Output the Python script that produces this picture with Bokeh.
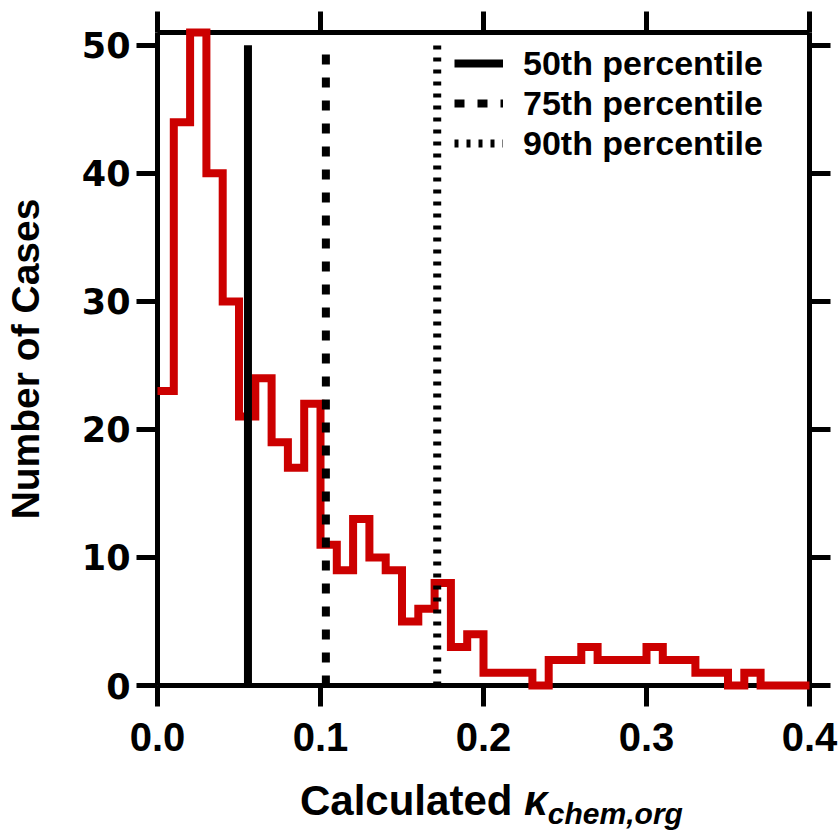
from bokeh.plotting import figure
from bokeh.models import LinearAxis, FixedTicker, Legend, LegendItem, Div
from bokeh.layouts import column
from bokeh.embed import file_html
from bokeh.resources import INLINE

# ---- data ----
bin_start = 0.0
bin_width = 0.01
counts = [23, 44, 51, 40, 30, 21, 24, 19, 17, 22,
          11, 9, 13, 10, 9, 5, 6, 8, 3, 4,
          1, 1, 1, 0, 2, 2, 3, 2, 2, 2,
          3, 2, 2, 1, 1, 0, 1, 0, 0, 0]
percentile_names = ["50th percentile", "75th percentile", "90th percentile"]
percentile_values = [0.0555, 0.1033, 0.1716]
percentile_top = 50
x_ticks = [0.0, 0.1, 0.2, 0.3, 0.4]
x_tick_labels = ["0.0", "0.1", "0.2", "0.3", "0.4"]
y_ticks = [0, 10, 20, 30, 40, 50]
y_tick_labels = ["0", "10", "20", "30", "40", "50"]

FONT = "Liberation Sans"
FL, FR, FT, FB = 153, 805, 32, 685  # frame edges in page px
FIG_H = 775

p = figure(frame_width=FR - FL, frame_height=FB - FT,
           x_range=(0, 0.4), y_range=(0, 51),
           output_backend="svg", toolbar_location=None,
           min_border_left=FL, min_border_right=839 - FR,
           min_border_top=FT, min_border_bottom=FIG_H - FB)
p.outline_line_color = None
p.xgrid.visible = False
p.ygrid.visible = False
p.background_fill_color = "white"
p.border_fill_color = "white"

def style_axis(ax, ticks, labels, show_labels):
    ax.ticker = FixedTicker(ticks=ticks)
    ax.axis_line_width = 5
    ax.axis_line_color = "black"
    ax.major_tick_line_width = 5
    ax.major_tick_line_color = "black"
    ax.major_tick_in = 0
    ax.major_tick_out = 21
    ax.minor_tick_line_color = None
    ax.major_label_text_font_style = "bold"
    ax.major_label_text_color = "black"
    if show_labels:
        ax.major_label_overrides = {t: l for t, l in zip(ticks, labels)}
    else:
        ax.major_label_text_font_size = "0px"
        ax.major_label_standoff = 0

xa = p.xaxis[0]
style_axis(xa, x_ticks, x_tick_labels, True)
xa.major_label_text_font = FONT
xa.major_label_text_font_size = "40px"
xa.major_label_standoff = 16

ya = p.yaxis[0]
style_axis(ya, y_ticks, y_tick_labels, True)
ya.major_label_text_font = "DejaVu Sans"
ya.major_label_text_font_size = "35px"
ya.major_label_standoff = 6
ya.axis_label = "Number of Cases"
ya.axis_label_text_font = FONT
ya.axis_label_text_font_style = "bold"
ya.axis_label_text_font_size = "39px"
ya.axis_label_text_color = "black"
ya.axis_label_standoff = 32

top = LinearAxis()
style_axis(top, x_ticks, x_tick_labels, False)
right = LinearAxis()
style_axis(right, y_ticks, y_tick_labels, False)
p.add_layout(top, "above")
p.add_layout(right, "right")

# histogram as step line
edges = [bin_start + i * bin_width for i in range(len(counts) + 1)]
step_y = counts + [counts[-1]]
p.step(x=edges, y=step_y, mode="after", line_width=8, line_color="#CC0000",
       line_join="miter", level="overlay")

dashes = ["solid", "10 13", "4 8"]
items = []
for name, val, dash in zip(percentile_names, percentile_values, dashes):
    r = p.line(x=[val, val], y=[0, percentile_top], line_width=8,
               line_color="black", line_dash=dash, line_cap="butt",
               level="overlay")
    items.append(LegendItem(label=name, renderers=[r]))

legend = Legend(items=items, location=(297, 522))
legend.border_line_color = None
legend.background_fill_alpha = 0
legend.padding = 0
legend.spacing = 0
legend.margin = 0
legend.glyph_width = 49
legend.glyph_height = 40
legend.label_height = 40
legend.label_standoff = 20
legend.label_text_font = FONT
legend.label_text_font_style = "bold"
legend.label_text_font_size = "34px"
legend.label_text_color = "black"
legend.label_text_baseline = "middle"
p.add_layout(legend, "center")

xtitle = Div(
    text='Calculated <i>&kappa;<sub style="font-size:30px; vertical-align:-9px; line-height:0">chem,org</sub></i>',
    width=839, height=831 - FIG_H,
    styles={"font-family": "'Liberation Sans'", "font-weight": "bold",
            "font-size": "42px", "line-height": "42px", "color": "black",
            "padding-left": "300px", "padding-top": "5px", "margin": "0",
            "white-space": "nowrap"})

layout = column(p, xtitle, spacing=0)
open("out.html", "w").write(file_html(layout, INLINE))
